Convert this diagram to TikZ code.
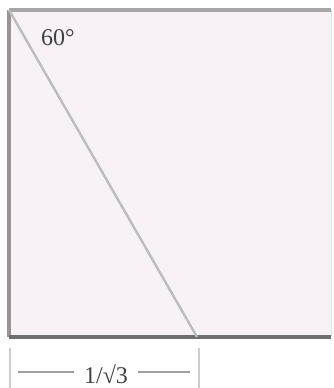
\documentclass[tikz,border=0pt]{standalone}
\usepackage{fontspec}
\setmainfont{Liberation Serif}
\definecolor{sqfill}{HTML}{F8F1F6}
\definecolor{edgetop}{HTML}{A6A6A6}
\definecolor{edgebot}{HTML}{6E6E6E}
\definecolor{diag}{HTML}{BDBDBD}
\definecolor{dimc}{HTML}{A0A0A0}
\begin{document}
\begin{tikzpicture}[x=1pt,y=-1pt,
  lbl/.style={inner sep=0pt,font=\fontsize{24}{24}\selectfont,text=black!75}]
\useasboundingbox (0,0) rectangle (333,388);
\coordinate (tl) at (9,10);
\coordinate (tr) at (331,10);
\coordinate (bl) at (9,337);
\coordinate (br) at (331,337);
\coordinate (foot) at (197,337);
\fill[sqfill] (tl) rectangle (br);
\draw[line width=1pt,black!12] (tr) -- (br);
\draw[line width=3.4pt,edgetop] (tl) -- (tr);
\draw[line width=3.4pt,edgetop!90!black] (tl) -- (bl);
\draw[line width=3.4pt,edgebot] (bl) -- (br);
\draw[line width=2.4pt,diag] (tl) -- (foot);
\node[lbl] (ang) at (58,38) {60°};
% dimension
\coordinate (t1a) at (10,348);
\coordinate (t1b) at (10,388);
\coordinate (t2a) at (199,348);
\coordinate (t2b) at (199,388);
\draw[line width=1.5pt,black!20] (t1a) -- (t1b);
\draw[line width=1.5pt,black!20] (t2a) -- (t2b);
\node[lbl] (len) at (106,374) {1/√3};
\coordinate (l1) at (18,372);
\coordinate (r1) at (190,372);
\draw[line width=1.4pt,dimc] (l1) -- ([xshift=-10pt]len.west |- l1);
\draw[line width=1.4pt,dimc] ([xshift=10pt]len.east |- r1) -- (r1);
\end{tikzpicture}
\end{document}
